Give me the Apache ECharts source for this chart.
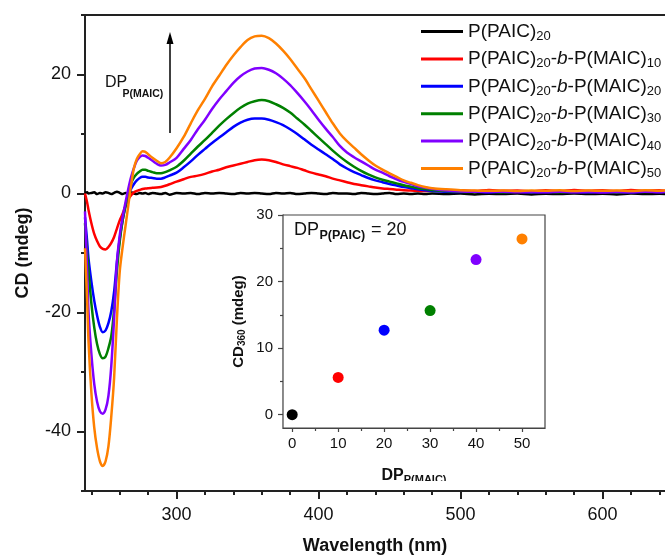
<!DOCTYPE html>
<html>
<head>
<meta charset="utf-8">
<script src="https://cdn.jsdelivr.net/npm/echarts@6/dist/echarts.min.js"></script>
<style>
  html, body { margin: 0; padding: 0; background: #ffffff; }
  #chart { width: 665px; height: 555px; }
</style>
</head>
<body>
<div id="chart"></div>
<script>
// ---------- data ----------
const wavelength = [
  235.5, 237, 238,
  240, 242, 244, 246, 248, 250, 252, 254, 256, 258, 260, 262, 264, 266, 268, 270, 272, 274, 276, 278, 280,
  283, 286, 289, 292, 295,
  300, 305, 310, 315, 320, 325, 330, 335, 340, 345, 350, 355, 360, 365, 370, 375, 380, 385, 390, 395, 400, 405, 410, 415, 420, 425, 430, 435, 440, 445, 450, 455, 460, 465, 470, 475, 480,
  490, 500, 510, 520, 530, 540, 550, 560, 570, 580, 590, 600, 610, 620, 630, 640, 645
];
const cdBlack = [
  0.1, 0.2, 0.0,
  0.1, 0.2, -0.1, 0.1, 0.0, 0.2, 0.1, -0.1, 0.1, 0.3, 0.1, -0.1, 0.1, 0.0, 0.2, 0.0, -0.1, 0.1, 0.0, 0.1, -0.1,
  0.1, 0.0, -0.1, 0.1, -0.2,
  0.1, 0.0, 0.1, -0.1, 0.1, 0.0, 0.1, 0.0, -0.1, 0.1, 0.0, 0.1, 0.0, -0.1, 0.1, 0.0, 0.1, -0.1, 0.0, 0.1, 0.0, -0.1, 0.1, 0.0, 0.0, -0.1, 0.1, 0.0, -0.1, 0.0, 0.1, -0.1, 0.0, -0.1, 0.0, -0.1, 0.0,
  -0.1, 0.0, -0.15, -0.05, -0.1, 0.0, -0.15, -0.05, -0.1, 0.0, -0.1, -0.05, -0.15, 0.0, -0.1, -0.05, -0.1
];
const cdMaic10 = [
  0, -1.5, -2.8,
  -5, -6.8, -8.0, -8.9, -9.3, -9.4, -9.0, -8.3, -7.3, -5.9, -4.5, -3.4, -2.1, -1.0, -0.3, 0.2, 0.45, 0.6, 0.75, 0.85, 0.9,
  0.95, 1.0, 1.1, 1.3, 1.55,
  2.0, 2.4, 2.8, 3.0, 3.3, 3.7, 4.0, 4.4, 4.7, 5.0, 5.3, 5.6, 5.7, 5.6, 5.3, 4.9, 4.6, 4.3, 3.9, 3.5, 3.2, 2.9, 2.5, 2.2, 1.9, 1.6, 1.4, 1.2, 1.0, 0.85, 0.75, 0.65, 0.55, 0.5, 0.45, 0.4, 0.5,
  0.4, 0.55, 0.4, 0.6, 0.45, 0.5, 0.35, 0.55, 0.4, 0.6, 0.45, 0.55, 0.4, 0.6, 0.45, 0.55, 0.4
];
const cdMaic20 = [
  -4, -8, -11,
  -14.8, -18, -20.5, -22.4, -23.3, -23, -21.8, -19.8, -16.5, -11.5, -7.5, -4.5, -2.2, -0.5, 0.8, 1.6, 2.2, 2.6, 2.8, 2.8, 2.7,
  2.6, 2.5, 2.5, 2.7, 3.0,
  3.5, 4.4, 5.4, 6.5, 7.5, 8.5, 9.4, 10.3, 11.2, 11.9, 12.4, 12.6, 12.6, 12.4, 12.0, 11.5, 10.8, 10.0, 9.1, 8.2, 7.4, 6.6, 5.8, 4.9, 4.2, 3.6, 3.1, 2.6, 2.2, 1.9, 1.6, 1.35, 1.1, 0.9, 0.7, 0.55, 0.45,
  0.3, 0.25, 0.3, 0.2, 0.25, 0.3, 0.2, 0.25, 0.3, 0.25, 0.2, 0.3, 0.25, 0.2, 0.3, 0.25, 0.3
];
const cdMaic30 = [
  -5, -10, -13,
  -18.5, -22.5, -25.3, -27, -27.7, -27.4, -26, -24, -19.5, -13, -8, -4.5, -2, 0, 1.7, 2.7, 3.3, 3.7, 4.0, 4.0, 3.8,
  3.6, 3.4, 3.4, 3.6, 3.9,
  4.5, 5.5, 6.7, 7.9, 9.0, 10.2, 11.4, 12.5, 13.5, 14.4, 15.1, 15.5, 15.7, 15.5, 15.0, 14.4, 13.6, 12.6, 11.6, 10.5, 9.4, 8.3, 7.2, 6.2, 5.3, 4.5, 3.8, 3.2, 2.7, 2.3, 2.0, 1.7, 1.4, 1.15, 0.9, 0.75, 0.6,
  0.4, 0.3, 0.25, 0.3, 0.2, 0.3, 0.25, 0.3, 0.2, 0.3, 0.25, 0.3, 0.2, 0.3, 0.25, 0.3, 0.25
];
const cdMaic40 = [
  -3, -13, -20,
  -27, -32, -35, -36.6, -37, -36.3, -34, -29, -21, -11.5, -7, -4, -1.5, 0.8, 2.8, 4.3, 5.5, 6.1, 6.4, 6.3, 6.0,
  5.5, 5.0, 4.7, 4.8, 5.2,
  6.0, 7.5, 9.0, 10.8, 12.4, 14.2, 15.8, 17.2, 18.6, 19.7, 20.5, 21.0, 21.1, 20.8, 20.2, 19.3, 18.2, 16.9, 15.5, 14.0, 12.4, 10.9, 9.5, 8.0, 6.9, 6.1, 5.4, 4.7, 4.0, 3.5, 2.9, 2.4, 1.95, 1.6, 1.2, 1.0, 0.8,
  0.5, 0.35, 0.3, 0.25, 0.3, 0.2, 0.25, 0.2, 0.3, 0.2, 0.25, 0.15, 0.25, 0.2, 0.3, 0.2, 0.25
];
const cdMaic50 = [
  -9.2, -18, -25,
  -33.5, -39.3, -42.8, -45, -45.8, -45, -42.5, -37.5, -31, -21, -13, -9, -5.5, -2, 1.5, 4.3, 5.8, 6.6, 7.1, 7.0, 6.6,
  6.0, 5.5, 5.1, 5.3, 6.0,
  7.6, 9.5, 11.8, 14.0, 15.9, 18.0, 19.8, 21.6, 23.2, 24.6, 25.8, 26.4, 26.5, 26.1, 25.2, 24.0, 22.6, 21.0, 19.4, 17.5, 15.6, 13.7, 11.8, 10.1, 8.8, 7.7, 6.6, 5.6, 4.7, 4.0, 3.4, 2.8, 2.2, 1.8, 1.4, 1.1, 0.9,
  0.7, 0.55, 0.5, 0.45, 0.5, 0.4, 0.5, 0.45, 0.55, 0.4, 0.5, 0.45, 0.5, 0.4, 0.55, 0.45, 0.5
];
const seriesNames = [
  'P(PAIC)20',
  'P(PAIC)20-b-P(MAIC)10',
  'P(PAIC)20-b-P(MAIC)20',
  'P(PAIC)20-b-P(MAIC)30',
  'P(PAIC)20-b-P(MAIC)40',
  'P(PAIC)20-b-P(MAIC)50'
];
const maicSubscripts = ['', '10', '20', '30', '40', '50'];
const seriesColors = ['#000000', '#ff0000', '#0000ff', '#008000', '#8000ff', '#ff8000'];
const seriesValues = [cdBlack, cdMaic10, cdMaic20, cdMaic30, cdMaic40, cdMaic50];

// inset
const dpMaic = [0, 10, 20, 30, 40, 50];
const cd360 = [0, 5.6, 12.7, 15.65, 23.3, 26.4];

// tick labels
const xMajorTicks = [300, 400, 500, 600];
const xMinorTicks = [240, 260, 280, 320, 340, 360, 380, 420, 440, 460, 480, 520, 540, 560, 580, 620, 640];
const yMajorTicks = [-40, -20, 0, 20];
const yMinorTicks = [-50, -30, -10, 10, 30];
const insetXTicks = [0, 10, 20, 30, 40, 50];
const insetXMinor = [5, 15, 25, 35, 45];
const insetYTicks = [0, 10, 20, 30];
const insetYMinor = [5, 15, 25];

// ---------- chart ----------
const FONT = '"Liberation Sans", Arial, sans-serif';
const TXT = '#111111';
const AX = '#222222';
const chart = echarts.init(document.getElementById('chart'), null, { renderer: 'canvas' });

function legendLabel(name) {
  const i = seriesNames.indexOf(name);
  if (i === 0) return '{m|P(PAIC)}{s|20}';
  return '{m|P(PAIC)}{s|20}{m|-}{i|b}{m|-P(MAIC)}{s|' + maicSubscripts[i] + '}';
}

const hidden = { show: false };
function minorAxis(extra) {
  return Object.assign({
    type: 'value', axisLine: { show: false, onZero: false }, axisLabel: hidden,
    splitLine: hidden
  }, extra);
}

const option = {
  animation: false,
  backgroundColor: '#ffffff',
  textStyle: { fontFamily: FONT },
  grid: [
    { left: 85, top: 15, right: 0, bottom: 64, show: false, outerBoundsMode: 'none', containLabel: false },
    { left: 283, top: 215, right: 120, bottom: 127, show: true, backgroundColor: '#ffffff',
      borderColor: '#444444', borderWidth: 1.2, z: 5, outerBoundsMode: 'none', containLabel: false }
  ],
  legend: {
    data: seriesNames,
    orient: 'vertical',
    left: 421, top: 22,
    padding: 0,
    itemWidth: 42, itemHeight: 3, itemGap: 6.4,
    icon: 'rect',
    formatter: legendLabel,
    textStyle: {
      fontFamily: FONT, color: TXT,
      rich: {
        m: { fontSize: 19, fontFamily: FONT, color: TXT },
        i: { fontSize: 19, fontFamily: FONT, color: TXT, fontStyle: 'italic' },
        s: { fontSize: 13, fontFamily: FONT, color: TXT, padding: [10, 0, 0, 0] }
      }
    }
  },
  xAxis: [
    { // main bottom axis with labels
      type: 'value', gridIndex: 0, min: 235.5, max: 644, position: 'bottom',
      axisLine: { onZero: false, lineStyle: { color: AX, width: 2 } },
      axisTick: { customValues: xMajorTicks, length: 8, lineStyle: { color: AX, width: 2 } },
      axisLabel: { customValues: xMajorTicks, fontSize: 18, color: TXT, margin: 15, fontFamily: FONT },
      splitLine: hidden,
      name: 'Wavelength (nm)', nameLocation: 'middle', nameGap: 46,
      nameTextStyle: { fontSize: 18, fontWeight: 'bold', color: TXT, fontFamily: FONT }
    },
    minorAxis({ gridIndex: 0, min: 235.5, max: 644, position: 'bottom',
      axisTick: { customValues: xMinorTicks, length: 4, lineStyle: { color: AX, width: 2 } } }),
    { // top border
      type: 'value', gridIndex: 0, min: 235.5, max: 644, position: 'top',
      axisLine: { onZero: false, lineStyle: { color: AX, width: 2 } },
      axisTick: hidden, axisLabel: hidden, splitLine: hidden
    },
    { // inset x
      type: 'value', gridIndex: 1, min: -2, max: 55, position: 'bottom',
      axisLine: { onZero: false, lineStyle: { color: '#444444', width: 1.2 } },
      axisTick: { customValues: insetXTicks, length: 4, lineStyle: { color: '#444444', width: 1.2 } },
      axisLabel: { customValues: insetXTicks, fontSize: 15, color: TXT, margin: 8, fontFamily: FONT },
      splitLine: hidden,
      name: '{b|DP}{s|P(MAIC)}', nameLocation: 'middle', nameGap: 38,
      nameTextStyle: {
        rich: {
          b: { fontSize: 16, fontWeight: 'bold', color: TXT, fontFamily: FONT },
          s: { fontSize: 11, fontWeight: 'bold', color: TXT, fontFamily: FONT, padding: [8, 0, 0, 0] }
        }
      }
    },
    minorAxis({ gridIndex: 1, min: -2, max: 55, position: 'bottom',
      axisTick: { customValues: insetXMinor, length: 3, lineStyle: { color: '#444444', width: 1.2 } } })
  ],
  yAxis: [
    {
      type: 'value', gridIndex: 0, min: -50, max: 30, position: 'left',
      axisLine: { onZero: false, lineStyle: { color: AX, width: 2 } },
      axisTick: { customValues: yMajorTicks, length: 8, lineStyle: { color: AX, width: 2 } },
      axisLabel: { customValues: yMajorTicks, fontSize: 18, color: TXT, margin: 14, fontFamily: FONT },
      splitLine: hidden,
      name: 'CD (mdeg)', nameLocation: 'middle', nameGap: 53,
      nameTextStyle: { fontSize: 18, fontWeight: 'bold', color: TXT, fontFamily: FONT }
    },
    minorAxis({ gridIndex: 0, min: -50, max: 30, position: 'left',
      axisTick: { customValues: yMinorTicks, length: 4, lineStyle: { color: AX, width: 2 } } }),
    {
      type: 'value', gridIndex: 1, min: -2, max: 30, position: 'left',
      axisLine: { onZero: false, lineStyle: { color: '#444444', width: 1.2 } },
      axisTick: { customValues: insetYTicks, length: 5, lineStyle: { color: '#444444', width: 1.2 } },
      axisLabel: { customValues: insetYTicks, fontSize: 15, color: TXT, margin: 10, fontFamily: FONT },
      splitLine: hidden,
      name: '{b|CD}{s|360}{b| (mdeg)}', nameLocation: 'middle', nameGap: 36,
      nameTextStyle: {
        rich: {
          b: { fontSize: 15, fontWeight: 'bold', color: TXT, fontFamily: FONT },
          s: { fontSize: 10, fontWeight: 'bold', color: TXT, fontFamily: FONT, padding: [7, 0, 0, 0] }
        }
      }
    },
    minorAxis({ gridIndex: 1, min: -2, max: 30, position: 'left',
      axisTick: { customValues: insetYMinor, length: 3, lineStyle: { color: '#444444', width: 1.2 } } })
  ],
  series: seriesNames.map((name, k) => ({
    name: name,
    type: 'line',
    xAxisIndex: 0, yAxisIndex: 0,
    showSymbol: false,
    smooth: 0.3,
    clip: true,
    itemStyle: { color: seriesColors[k] },
    lineStyle: { color: seriesColors[k], width: 2.5 },
    data: wavelength.map((w, i) => [w, seriesValues[k][i]])
  })).concat([{
    name: 'CD360',
    type: 'scatter',
    xAxisIndex: 3, yAxisIndex: 2,
    symbolSize: 11,
    z: 10,
    data: dpMaic.map((d, i) => ({ value: [d, cd360[i]], itemStyle: { color: seriesColors[i], opacity: 1 } }))
  }]),
  graphic: [
    { type: 'line', shape: { x1: 170, y1: 133, x2: 170, y2: 42 }, style: { stroke: '#000', lineWidth: 1.5 } },
    { type: 'polygon', shape: { points: [[170, 32], [166.5, 44], [173.5, 44]] }, style: { fill: '#000' } },
    { type: 'text', x: 105, y: 82.5, style: { text: 'DP', font: '16px ' + FONT, fill: TXT, verticalAlign: 'middle' } },
    { type: 'text', x: 122.5, y: 93.7, style: { text: 'P(MAIC)', font: 'bold 10.5px ' + FONT, fill: TXT, verticalAlign: 'middle' } },
    { type: 'text', x: 294, y: 230, z: 20, style: { text: 'DP', font: '18px ' + FONT, fill: TXT, verticalAlign: 'middle' } },
    { type: 'text', x: 319.5, y: 236, z: 20, style: { text: 'P(PAIC)', font: 'bold 12.5px ' + FONT, fill: TXT, verticalAlign: 'middle' } },
    { type: 'text', x: 371, y: 230, z: 20, style: { text: '= 20', font: '18px ' + FONT, fill: TXT, verticalAlign: 'middle' } },
    // the reference cuts off the lower part of the inset axis title
    { type: 'rect', z: 100, shape: { x: 385, y: 481, width: 70, height: 7.5 }, style: { fill: '#ffffff' } }
  ]
};
chart.setOption(option);
</script>
</body>
</html>
